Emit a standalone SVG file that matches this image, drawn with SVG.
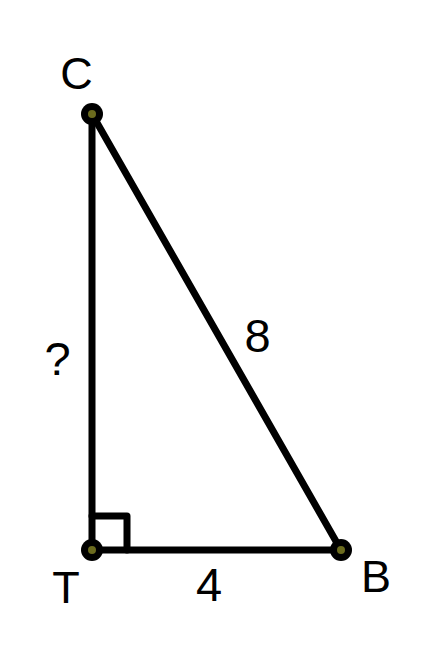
<svg xmlns="http://www.w3.org/2000/svg" width="432" height="654" viewBox="0 0 432 654">
<style>
.edge{stroke:#000;stroke-width:7;fill:none;stroke-linecap:round;stroke-linejoin:round}
.lbl{font-family:"Liberation Sans",Arial,sans-serif;font-size:45px;fill:#000;text-anchor:middle}
.num{font-size:47px}
.pt-o{fill:#000}
.pt-i{fill:#6b6b1e}
</style>
<rect width="432" height="654" fill="#fff"/>
<g id="connectors">
<line class="edge" x1="92" y1="114" x2="92" y2="550"/>
<line class="edge" x1="92" y1="550" x2="341" y2="550"/>
<line class="edge" x1="92" y1="114" x2="341" y2="550"/>
<path class="edge" d="M92,516 H127 V550" stroke-width="6" stroke-linecap="butt"/>
</g>
<g id="C"><circle class="pt-o" cx="92" cy="114" r="11"/><circle class="pt-i" cx="92" cy="114" r="4"/><text class="lbl" x="76.5" y="89">C</text></g>
<g id="T"><circle class="pt-o" cx="92" cy="550" r="11"/><circle class="pt-i" cx="92" cy="550" r="4"/><text class="lbl" x="66" y="603">T</text></g>
<g id="B"><circle class="pt-o" cx="341" cy="550" r="11"/><circle class="pt-i" cx="341" cy="550" r="4"/><text class="lbl" x="376" y="592">B</text></g>
<g id="labels">
<text class="lbl num" x="57.5" y="375">?</text>
<text class="lbl num" x="257.5" y="352">8</text>
<text class="lbl num" x="209" y="601">4</text>
</g>
</svg>
